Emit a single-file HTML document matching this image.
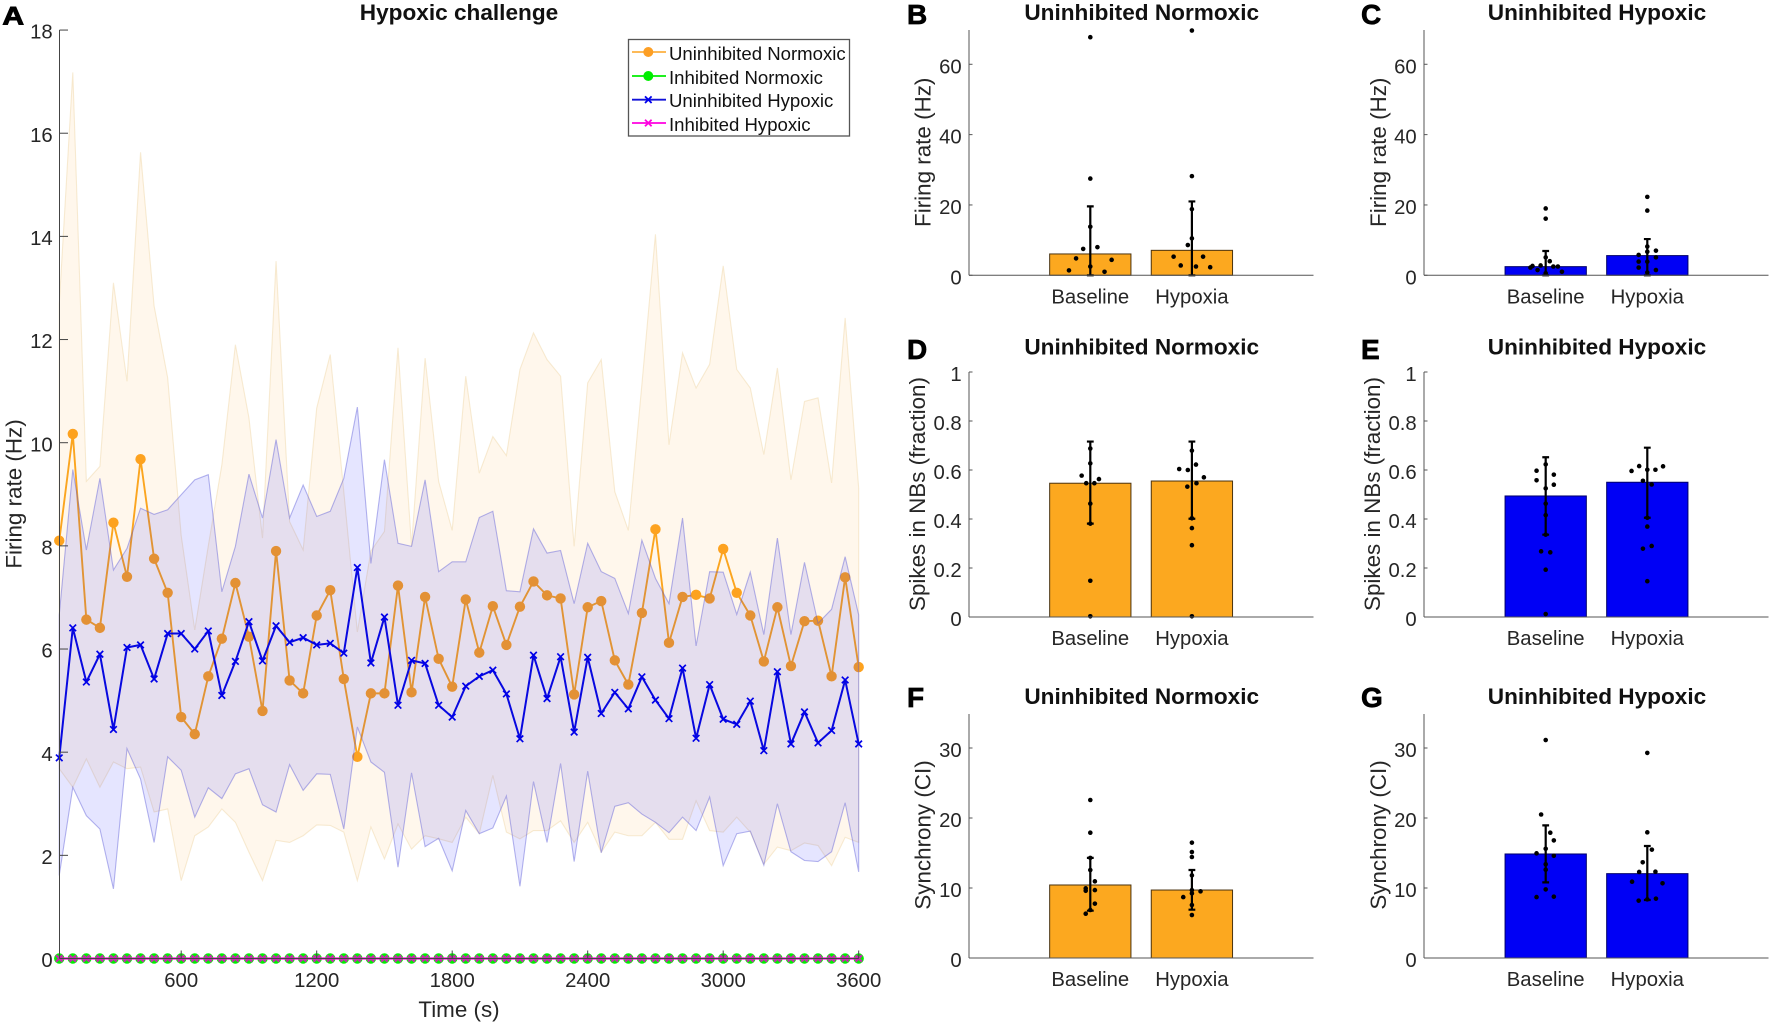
<!DOCTYPE html>
<html lang="en">
<head>
<meta charset="utf-8">
<title>Hypoxic challenge figure</title>
<style>
html,body{margin:0;padding:0;background:#fff;width:1772px;height:1025px;overflow:hidden}
svg{display:block;font-family:"Liberation Sans",Arial,sans-serif;filter:blur(0.35px)}
.tick{font-size:20.3px;fill:#262626}
.lab{font-size:22.4px;fill:#262626}
.ttl{font-size:22.6px;font-weight:bold;fill:#111}
.let{font-size:28px;font-weight:bold;fill:#000;stroke:#000;stroke-width:.7px}
.leg{font-size:18.6px;fill:#111}
</style>
</head>
<body>
<svg id="figure" width="1772" height="1025" viewBox="0 0 1772 1025" xmlns="http://www.w3.org/2000/svg">
  <g id="panel-a"></g>
  <g id="panel-b"></g>
  <g id="panel-c"></g>
  <g id="panel-d"></g>
  <g id="panel-e"></g>
  <g id="panel-f"></g>
  <g id="panel-g"></g>

  <text class="let" transform="translate(2.4,24.6) scale(1.2,1)" style="font-size:25px;stroke-width:.9px">A</text>
  <text class="let" x="907" y="24">B</text>
  <text class="let" x="1361" y="24">C</text>
  <text class="let" x="907" y="359">D</text>
  <text class="let" x="1361" y="359">E</text>
  <text class="let" x="907" y="707">F</text>
  <text class="let" x="1361" y="707">G</text>

  <text class="ttl" x="459" y="20" text-anchor="middle">Hypoxic challenge</text>
  <text class="ttl" x="1141.7" y="20" text-anchor="middle">Uninhibited Normoxic</text>
  <text class="ttl" x="1597" y="20" text-anchor="middle">Uninhibited Hypoxic</text>
  <text class="ttl" x="1141.7" y="354.5" text-anchor="middle">Uninhibited Normoxic</text>
  <text class="ttl" x="1597" y="354.5" text-anchor="middle">Uninhibited Hypoxic</text>
  <text class="ttl" x="1141.7" y="704" text-anchor="middle">Uninhibited Normoxic</text>
  <text class="ttl" x="1597" y="704" text-anchor="middle">Uninhibited Hypoxic</text>

  <text class="lab" x="459" y="1017" text-anchor="middle">Time (s)</text>
  <text class="lab" transform="translate(21.5,494) rotate(-90)" text-anchor="middle">Firing rate (Hz)</text>
  <text class="lab" transform="translate(930.7,152.3) rotate(-90)" text-anchor="middle">Firing rate (Hz)</text>
  <text class="lab" transform="translate(1386,152.3) rotate(-90)" text-anchor="middle">Firing rate (Hz)</text>
  <text class="lab" transform="translate(925,494) rotate(-90)" text-anchor="middle">Spikes in NBs (fraction)</text>
  <text class="lab" transform="translate(1380,494) rotate(-90)" text-anchor="middle">Spikes in NBs (fraction)</text>
  <text class="lab" transform="translate(930.7,835) rotate(-90)" text-anchor="middle">Synchrony (CI)</text>
  <text class="lab" transform="translate(1386,835) rotate(-90)" text-anchor="middle">Synchrony (CI)</text>

  <g>
    <rect x="628.5" y="39.5" width="221" height="96.5" fill="#fff" stroke="#555" stroke-width="1.3"/>
    <g>
      <line x1="632" x2="666" y1="52" y2="52" stroke="#fdb040" stroke-width="1.8"/>
      <circle cx="648.3" cy="52" r="5" fill="#fd9f25"/>
      <text class="leg" x="669" y="60">Uninhibited Normoxic</text>
    </g>
    <g>
      <line x1="632" x2="666" y1="76" y2="76" stroke="#00ee00" stroke-width="1.8"/>
      <circle cx="648.3" cy="76" r="5" fill="#00ee00"/>
      <text class="leg" x="669" y="84">Inhibited Normoxic</text>
    </g>
    <g>
      <line x1="632" x2="666" y1="99.7" y2="99.7" stroke="#1010d8" stroke-width="1.8"/>
      <path d="M645 96.4L651.6 103M645 103L651.6 96.4" stroke="#0000ee" stroke-width="1.8" fill="none"/>
      <text class="leg" x="669" y="107">Uninhibited Hypoxic</text>
    </g>
    <g>
      <line x1="632" x2="666" y1="123" y2="123" stroke="#ff00e0" stroke-width="1.8"/>
      <path d="M645 119.7L651.6 126.3M645 126.3L651.6 119.7" stroke="#ff00e0" stroke-width="1.8" fill="none"/>
      <text class="leg" x="669" y="131">Inhibited Hypoxic</text>
    </g>
  </g>
</svg>

<script>
/* ---------- Panel A data ---------- */
const timeSeconds = [60,120,180,240,300,360,420,480,540,600,660,720,780,840,900,960,1020,1080,1140,1200,1260,1320,1380,1440,1500,1560,1620,1680,1740,1800,1860,1920,1980,2040,2100,2160,2220,2280,2340,2400,2460,2520,2580,2640,2700,2760,2820,2880,2940,3000,3060,3120,3180,3240,3300,3360,3420,3480,3540,3600];
const uninhibitedNormoxic = [8.10,10.17,6.57,6.41,8.45,7.40,9.68,7.75,7.09,4.68,4.35,5.47,6.20,7.28,6.24,4.80,7.90,5.39,5.14,6.65,7.14,5.42,3.91,5.14,5.14,7.23,5.16,7.01,5.81,5.27,6.96,5.93,6.83,6.08,6.82,7.31,7.04,6.98,5.12,6.81,6.93,5.78,5.31,6.70,8.32,6.12,7.01,7.05,6.98,7.94,7.09,6.65,5.76,6.81,5.67,6.54,6.55,5.47,7.39,5.65];
const normoxicUpper = [12.68,17.18,9.25,9.54,13.10,11.19,15.63,12.65,11.26,8.20,6.37,8.00,9.57,11.90,10.48,8.15,13.52,8.47,7.92,10.67,11.71,9.05,6.33,7.90,8.28,11.84,8.00,11.64,9.25,8.30,11.29,9.41,10.12,9.75,11.42,12.13,11.61,11.29,7.99,11.16,11.61,9.05,8.30,11.13,14.04,9.96,11.74,11.06,11.52,13.43,11.42,11.06,9.77,11.45,9.28,10.80,10.87,9.22,12.42,9.12];
const normoxicLower = [3.68,3.32,3.87,3.32,3.81,3.68,3.71,2.84,2.90,1.51,2.38,2.55,2.90,2.64,2.06,1.51,2.29,2.25,2.38,2.59,2.58,2.45,1.51,2.55,1.93,2.61,2.12,2.38,2.32,2.25,2.74,2.42,3.55,2.45,2.32,2.48,2.48,2.67,2.25,2.64,2.06,2.45,2.38,2.38,2.64,2.31,2.31,3.06,2.48,2.45,2.74,2.45,1.83,2.16,2.09,2.24,2.19,1.80,2.35,2.25];
const uninhibitedHypoxic = [3.89,6.41,5.36,5.90,4.44,6.03,6.08,5.42,6.30,6.30,6.00,6.35,5.10,5.76,6.53,5.77,6.45,6.13,6.22,6.08,6.11,5.92,7.58,5.73,6.62,4.91,5.78,5.72,4.91,4.68,5.28,5.47,5.59,5.13,4.26,5.88,5.04,5.85,4.39,5.84,4.75,5.16,4.84,5.46,5.01,4.65,5.63,4.27,5.31,4.64,4.54,4.99,4.03,5.56,4.16,4.78,4.18,4.42,5.40,4.16];
const hypoxicUpper = [6.66,9.48,7.92,9.31,7.53,7.95,8.73,8.61,8.70,8.99,9.28,9.38,7.11,7.99,9.39,8.54,10.06,8.54,9.18,8.57,8.67,9.31,10.69,7.66,9.67,8.05,7.99,9.28,7.50,7.69,7.69,8.55,8.67,7.13,7.11,8.33,7.86,7.91,6.88,8.05,7.50,7.37,6.69,8.11,7.37,6.88,8.54,6.06,7.50,7.49,6.67,7.49,6.28,8.15,6.28,7.68,6.50,6.77,7.79,6.66];
const hypoxicLower = [1.61,3.32,2.77,2.51,1.35,4.07,3.48,2.25,3.91,3.65,2.74,3.31,3.10,3.58,3.68,2.98,2.84,3.76,3.26,3.58,3.57,2.51,4.49,3.81,3.61,1.77,3.60,2.17,2.33,1.70,2.87,2.42,2.53,3.15,1.40,3.43,2.25,3.78,1.88,3.63,2.05,2.95,3.02,2.80,2.64,2.44,2.74,2.48,3.13,1.80,2.42,2.47,1.81,3.00,2.07,1.90,1.88,2.07,3.02,1.68];
const inhibitedNormoxic = [0,0,0,0,0,0,0,0,0,0,0,0,0,0,0,0,0,0,0,0,0,0,0,0,0,0,0,0,0,0,0,0,0,0,0,0,0,0,0,0,0,0,0,0,0,0,0,0,0,0,0,0,0,0,0,0,0,0,0,0];
const inhibitedHypoxic = [0,0,0,0,0,0,0,0,0,0,0,0,0,0,0,0,0,0,0,0,0,0,0,0,0,0,0,0,0,0,0,0,0,0,0,0,0,0,0,0,0,0,0,0,0,0,0,0,0,0,0,0,0,0,0,0,0,0,0,0];
const timeTickValues = [600,1200,1800,2400,3000,3600];
const rateTickValues = [0,2,4,6,8,10,12,14,16,18];

/* ---------- Bar panel shared ---------- */
const barCategories = ['Baseline','Hypoxia'];
const firingTicks = [0,20,40,60];
const fractionTicks = [0,0.2,0.4,0.6,0.8,1];
const fractionTickLabels = ['0','0.2','0.4','0.6','0.8','1'];
const synchronyTicks = [0,10,20,30];

/* ---------- Panel B ---------- */
const bMeans = [6.07,7.1];
const bErrLow = [0,0];
const bErrHigh = [19.6,21.0];
const bBaselineDots = [67.7,27.5,13.8,7.5,8.0,4.8,4.4,2.5,1.4,1.0];
const bBaselineJitter = [0,0,0,-0.07,0.07,-0.14,0.21,0,-0.21,0.14];
const bHypoxiaDots = [69.6,28.2,18.8,10.5,8.6,5.3,5.3,2.8,2.5,2.3];
const bHypoxiaJitter = [0,0,0,0,-0.04,-0.18,0.11,-0.11,0.04,0.18];

/* ---------- Panel C ---------- */
const cMeans = [2.46,5.6];
const cErrLow = [0,0];
const cErrHigh = [6.9,10.3];
const cBaselineDots = [19,16.1,5.1,4.0,2.8,2.65,2.2,1.5,2.5,2.5,1.0,0.6];
const cBaselineJitter = [0,0,0,0.04,-0.05,-0.13,-0.15,-0.08,0.075,0.12,0.16,0];
const cHypoxiaDots = [22.3,18.4,8.2,7.0,5.8,6.7,5.1,3.9,3.9,2.2,1.5,0.8];
const cHypoxiaJitter = [0,0,0,0.085,-0.085,0,0.085,-0.085,0,-0.085,0.085,0];

/* ---------- Panel D ---------- */
const dMeans = [0.546,0.555];
const dErrLow = [0.381,0.401];
const dErrHigh = [0.716,0.716];
const dBaselineDots = [0.688,0.627,0.577,0.563,0.546,0.546,0.463,0.381,0.148,0.003];
const dBaselineJitter = [0,0,-0.085,0.085,-0.04,0.04,0,0,0,0];
const dHypoxiaDots = [0.679,0.622,0.604,0.6,0.57,0.546,0.532,0.403,0.363,0.293,0.003];
const dHypoxiaJitter = [0,0.04,-0.125,-0.04,0.118,0.045,-0.045,0,0,0,0];

/* ---------- Panel E ---------- */
const eMeans = [0.494,0.55];
const eErrLow = [0.336,0.405];
const eErrHigh = [0.652,0.691];
const eBaselineDots = [0.623,0.597,0.581,0.558,0.54,0.525,0.463,0.416,0.336,0.268,0.264,0.193,0.012];
const eBaselineJitter = [0,-0.09,0.08,-0.09,0.08,0,0,0,0,-0.045,0.045,0,0];
const eHypoxiaDots = [0.615,0.616,0.601,0.601,0.596,0.556,0.541,0.405,0.369,0.29,0.279,0.146];
const eHypoxiaJitter = [0.155,-0.08,0.08,0,-0.155,-0.043,0.043,0,0,0.043,-0.043,0];

/* ---------- Panel F ---------- */
const fMeans = [10.43,9.71];
const fErrLow = [6.76,6.9];
const fErrHigh = [14.3,12.57];
const fBaselineDots = [22.57,17.9,14.3,12.57,10.95,9.95,9.6,9.7,7.76,6.86,6.33];
const fBaselineJitter = [0,0,0,0,0.045,-0.045,-0.045,0.045,0.045,0,-0.045];
const fHypoxiaDots = [16.48,15.14,14.43,11.8,9.7,9.52,9.24,8.7,7.57,6.14];
const fHypoxiaJitter = [0,0,0,0,0,0.085,0,-0.085,0,0];

/* ---------- Panel G ---------- */
const gMeans = [14.86,12.05];
const gErrLow = [10.8,8.29];
const gErrHigh = [18.95,16];
const gBaselineDots = [31.14,20.5,17.9,16.8,15.6,14.95,14.6,13.4,12.6,9.8,8.7,8.76];
const gBaselineJitter = [0,-0.045,0.045,0.08,0,-0.09,0.08,0,0,0,-0.09,0.08];
const gHypoxiaDots = [29.3,17.95,15.48,13.67,12.29,12.33,10.9,10.67,8.48,8.38,8.19];
const gHypoxiaJitter = [0,0,0.045,-0.045,-0.08,0.08,-0.15,0.15,0.085,0,-0.085];

const NS = 'http://www.w3.org/2000/svg';
function mk(parent, tag, attrs, text) {
  const el = document.createElementNS(NS, tag);
  for (const k in attrs) el.setAttribute(k, attrs[k]);
  if (text !== undefined) el.textContent = text;
  parent.appendChild(el);
  return el;
}

/* ---------- Panel A ---------- */
function drawPanelA() {
  const g = document.getElementById('panel-a');
  const xA = t => 45.7 + t * 0.22583;
  const yA = v => 958.5 - v * 51.58;
  const linePath = arr => arr.map((v, i) => (i ? 'L' : 'M') + xA(timeSeconds[i]).toFixed(2) + ' ' + yA(v).toFixed(2)).join('');
  const bandPath = (up, lo) => {
    let d = linePath(up);
    for (let i = lo.length - 1; i >= 0; i--) d += 'L' + xA(timeSeconds[i]).toFixed(2) + ' ' + yA(lo[i]).toFixed(2);
    return d + 'Z';
  };
  const band = (up, lo, fill, fo, stroke, so, name) => {
    const el = mk(g, 'path', {d: bandPath(up, lo), fill: fill, 'fill-opacity': fo, stroke: stroke, 'stroke-opacity': so, 'stroke-width': 1.1});
    
    
  };
  const series = (arr, color, width, name) => {
    const el = mk(g, 'path', {d: linePath(arr), fill: 'none', stroke: color, 'stroke-width': width, 'stroke-linejoin': 'round'});
    
    
  };
  const circles = (arr, color, r, name) => {
    arr.forEach((v, i) => {
      const c = mk(g, 'circle', {cx: xA(timeSeconds[i]), cy: yA(v), r: r, fill: color});
      
      
    });
  };
  const crosses = (arr, color, s, w, name) => {
    arr.forEach((v, i) => {
      const x = xA(timeSeconds[i]), y = yA(v);
      const c = mk(g, 'path', {d: `M${x - s} ${y - s}L${x + s} ${y + s}M${x - s} ${y + s}L${x + s} ${y - s}`, stroke: color, 'stroke-width': w, fill: 'none'});
      
      
    });
  };

  band(normoxicUpper, normoxicLower, '#ffa81f', 0.085, '#e8c98a', 0.35, 'normoxic-error-band');
  series(uninhibitedNormoxic, '#fba51f', 1.9, 'uninhibited-normoxic-line');
  circles(uninhibitedNormoxic, '#fda21f', 5.2, 'uninhibited-normoxic-point');
  series(inhibitedNormoxic, '#00ee00', 1.8, 'inhibited-normoxic-line');
  circles(inhibitedNormoxic, '#00f000', 5.2, 'inhibited-normoxic-point');
  band(hypoxicUpper, hypoxicLower, '#0000ff', 0.1, '#5a5ad8', 0.45, 'hypoxic-error-band');
  series(uninhibitedHypoxic, '#0808e0', 2, 'uninhibited-hypoxic-line');
  crosses(uninhibitedHypoxic, '#0000e8', 3.3, 1.7, 'uninhibited-hypoxic-point');
  series(inhibitedHypoxic, '#ff00dd', 2.2, 'inhibited-hypoxic-line');
  crosses(inhibitedHypoxic, '#c828b0', 3.2, 2.2, 'inhibited-hypoxic-point');

  const yAxis = mk(g, 'line', {x1: 59.5, x2: 59.5, y1: yA(18), y2: yA(0), stroke: '#444', 'stroke-width': 1});
  
  
  const xAxis = mk(g, 'line', {x1: 59.5, x2: xA(3600), y1: yA(0), y2: yA(0), stroke: '#444', 'stroke-width': 1});
  
  

  rateTickValues.forEach(v => {
    const t = mk(g, 'line', {x1: 59.5, x2: 68, y1: yA(v), y2: yA(v), stroke: '#444', 'stroke-width': 1});
    
    
    const l = mk(g, 'text', {x: 52.7, y: yA(v) + 8.6, 'text-anchor': 'end', class: 'tick'}, String(v));
    
    
  });
  timeTickValues.forEach(v => {
    const t = mk(g, 'line', {x1: xA(v), x2: xA(v), y1: yA(0), y2: yA(0) - 8, stroke: '#444', 'stroke-width': 1});
    
    
    const l = mk(g, 'text', {x: xA(v), y: 987, 'text-anchor': 'middle', class: 'tick'}, String(v));
    
    
  });
}

/* ---------- Bar panels ---------- */
function drawBarPanel(id, opt) {
  const g = document.getElementById(id);
  const xB = c => opt.firstCenter + (c - 1) * 101.6;
  const yB = v => opt.zeroY - v * opt.pxPerUnit;
  const halfWidth = 0.4;

  opt.means.forEach((v, i) => {
    const left = xB(i + 1 - halfWidth), right = xB(i + 1 + halfWidth);
    const r = mk(g, 'rect', {x: left, y: yB(v), width: right - left, height: yB(0) - yB(v), fill: opt.fill, stroke: opt.edge, 'stroke-width': 1});
    
    
  });

  opt.means.forEach((v, i) => {
    const cx = xB(i + 1), lo = yB(opt.errLow[i]), hi = yB(opt.errHigh[i]);
    const e = mk(g, 'path', {d: `M${cx} ${lo}L${cx} ${hi}M${cx - 3.4} ${hi}L${cx + 3.4} ${hi}M${cx - 3.4} ${lo}L${cx + 3.4} ${lo}`, stroke: '#000', 'stroke-width': 2.2, fill: 'none'});
    
    
  });

  const dots = (values, jitter, cat, name) => {
    values.forEach((v, i) => {
      const d = mk(g, 'circle', {cx: xB(cat + jitter[i]), cy: yB(v), r: 2.3, fill: '#000'});
      
      
    });
  };
  dots(opt.baseDots, opt.baseJitter, 1, 'baseline-dot');
  dots(opt.hypDots, opt.hypJitter, 2, 'hypoxia-dot');

  const yAxis = mk(g, 'line', {x1: opt.axisX, x2: opt.axisX, y1: opt.topY, y2: yB(0), stroke: '#555', 'stroke-width': 1});
  
  
  const xAxis = mk(g, 'line', {x1: opt.axisX, x2: opt.axisX + 344.5, y1: yB(0), y2: yB(0), stroke: '#555', 'stroke-width': 1});
  
  

  opt.ticks.forEach((v, i) => {
    const t = mk(g, 'line', {x1: opt.axisX, x2: opt.axisX + 3.5, y1: yB(v), y2: yB(v), stroke: '#555', 'stroke-width': 1});
    
    
    const label = opt.tickLabels ? opt.tickLabels[i] : String(v);
    const l = mk(g, 'text', {x: opt.axisX - 7.3, y: yB(v) + 9, 'text-anchor': 'end', class: 'tick'}, label);
    
    
  });
  barCategories.forEach((c, i) => {
    const l = mk(g, 'text', {x: xB(i + 1), y: opt.labelY, 'text-anchor': 'middle', class: 'tick'}, c);
    
    
  });
}

const ORANGE = '#fca81f', ORANGE_EDGE = '#4a3310', BLUE = '#0000f5', BLUE_EDGE = '#00006a';
drawPanelA();
drawBarPanel('panel-b', {firstCenter: 1090.3, axisX: 969, zeroY: 275.3, pxPerUnit: 3.517, topY: 30, labelY: 303.3, fill: ORANGE, edge: ORANGE_EDGE, ticks: firingTicks, means: bMeans, errLow: bErrLow, errHigh: bErrHigh, baseDots: bBaselineDots, baseJitter: bBaselineJitter, hypDots: bHypoxiaDots, hypJitter: bHypoxiaJitter});
drawBarPanel('panel-c', {firstCenter: 1545.7, axisX: 1424, zeroY: 275.3, pxPerUnit: 3.517, topY: 30, labelY: 303.3, fill: BLUE, edge: BLUE_EDGE, ticks: firingTicks, means: cMeans, errLow: cErrLow, errHigh: cErrHigh, baseDots: cBaselineDots, baseJitter: cBaselineJitter, hypDots: cHypoxiaDots, hypJitter: cHypoxiaJitter});
drawBarPanel('panel-d', {firstCenter: 1090.3, axisX: 969, zeroY: 617, pxPerUnit: 245, topY: 372, labelY: 645, fill: ORANGE, edge: ORANGE_EDGE, ticks: fractionTicks, tickLabels: fractionTickLabels, means: dMeans, errLow: dErrLow, errHigh: dErrHigh, baseDots: dBaselineDots, baseJitter: dBaselineJitter, hypDots: dHypoxiaDots, hypJitter: dHypoxiaJitter});
drawBarPanel('panel-e', {firstCenter: 1545.7, axisX: 1424, zeroY: 617, pxPerUnit: 245, topY: 372, labelY: 645, fill: BLUE, edge: BLUE_EDGE, ticks: fractionTicks, tickLabels: fractionTickLabels, means: eMeans, errLow: eErrLow, errHigh: eErrHigh, baseDots: eBaselineDots, baseJitter: eBaselineJitter, hypDots: eHypoxiaDots, hypJitter: eHypoxiaJitter});
drawBarPanel('panel-f', {firstCenter: 1090.3, axisX: 969, zeroY: 958, pxPerUnit: 7, topY: 714, labelY: 986, fill: ORANGE, edge: ORANGE_EDGE, ticks: synchronyTicks, means: fMeans, errLow: fErrLow, errHigh: fErrHigh, baseDots: fBaselineDots, baseJitter: fBaselineJitter, hypDots: fHypoxiaDots, hypJitter: fHypoxiaJitter});
drawBarPanel('panel-g', {firstCenter: 1545.7, axisX: 1424, zeroY: 958, pxPerUnit: 7, topY: 714, labelY: 986, fill: BLUE, edge: BLUE_EDGE, ticks: synchronyTicks, means: gMeans, errLow: gErrLow, errHigh: gErrHigh, baseDots: gBaselineDots, baseJitter: gBaselineJitter, hypDots: gHypoxiaDots, hypJitter: gHypoxiaJitter});
</script>
</body>
</html>
